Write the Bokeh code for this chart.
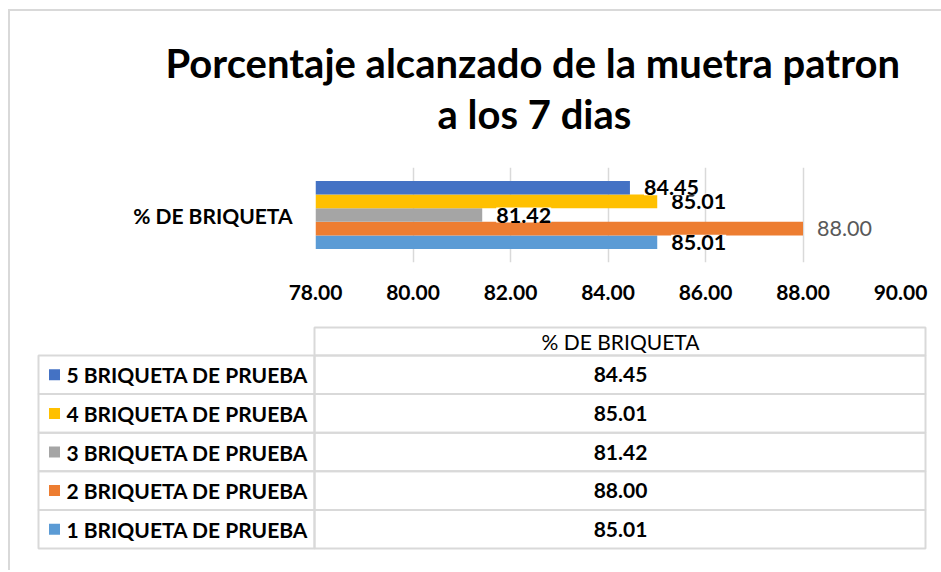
from bokeh.plotting import figure
from bokeh.models import Range1d, FactorRange, NumeralTickFormatter, FixedTicker, Title, LabelSet, ColumnDataSource
from bokeh.transform import dodge
from bokeh.layouts import column
from bokeh.core.properties import value
from bokeh.embed import file_html
from bokeh.resources import INLINE

# ---------------- data ----------------
title_lines = ["Porcentaje alcanzado de la muetra patron", "a los 7 dias"]
category = "% DE BRIQUETA"
series = ["1 BRIQUETA DE PRUEBA", "2 BRIQUETA DE PRUEBA", "3 BRIQUETA DE PRUEBA",
          "4 BRIQUETA DE PRUEBA", "5 BRIQUETA DE PRUEBA"]
values = [85.01, 88.00, 81.42, 85.01, 84.45]
colors = ["#5B9BD5", "#ED7D31", "#A5A5A5", "#FFC000", "#4472C4"]
x_ticks = [78, 80, 82, 84, 86, 88, 90]
x_start, x_end = 78, 90

FONT = "Lato"
GRID = "#d9d9d9"
W = 931

# ---------------- chart ----------------
p = figure(width=W, height=309, x_range=Range1d(x_start, x_end),
           y_range=FactorRange(factors=[category]),
           output_backend="svg", toolbar_location=None, frame_align=False,
           min_border_left=305, min_border_right=41, min_border_top=156, min_border_bottom=58)
p.outline_line_color = None
p.background_fill_color = "white"
p.border_fill_color = "white"

p.xaxis.ticker = FixedTicker(ticks=x_ticks)
p.xaxis.formatter = NumeralTickFormatter(format="0.00")
for ax in (p.xaxis, p.yaxis):
    ax.axis_line_color = None
    ax.major_tick_line_color = None
    ax.minor_tick_line_color = None
    ax.major_label_text_font = FONT
    ax.major_label_text_font_size = "21px"
    ax.major_label_text_font_style = "bold"
    ax.major_label_text_color = "#000000"
p.xaxis.major_label_standoff = 16
p.yaxis.major_label_standoff = 17

p.xgrid.grid_line_color = GRID
p.xgrid.grid_line_width = 1.5
p.ygrid.grid_line_color = None

bar_h = 0.1436
for i, (s, v, c) in enumerate(zip(series, values, colors)):
    off = (i - 2) * bar_h
    src = ColumnDataSource(dict(cat=[category], value=[v], label=["%.2f" % v]))
    p.hbar(y=dodge("cat", off, range=p.y_range), left=x_start, right="value",
           height=bar_h, fill_color=c, line_color=None, source=src)
    is_max = v == max(values)
    lab = LabelSet(x="value", y=dodge("cat", off, range=p.y_range), text="label",
                   x_offset=14, source=src, text_align="left", text_baseline="middle",
                   text_font=value(FONT), text_font_size="21.5px",
                   text_font_style="normal" if is_max else "bold",
                   text_color="#595959" if is_max else "#000000",
                   background_fill_color="white")
    p.add_layout(lab)

TFS = "40px"
t0 = Title(text=" ", text_font=FONT, text_font_size="10px", standoff=14.6)
t2 = Title(text=title_lines[1], align="left", offset=122, standoff=1,
           text_font=FONT, text_font_size=TFS, text_font_style="bold", text_color="#000000")
t1 = Title(text=title_lines[0], align="left", offset=-150, standoff=1,
           text_font=FONT, text_font_size=TFS, text_font_style="bold", text_color="#000000")
p.add_layout(t0, "above")
p.add_layout(t2, "above")
p.add_layout(t1, "above")

# ---------------- data table ----------------
TH = 250
t = figure(width=W, height=TH, x_range=Range1d(0, W), y_range=Range1d(TH, 0),
           output_backend="svg", toolbar_location=None, frame_align=False,
           x_axis_location=None, y_axis_location=None, min_border=0)
t.outline_line_color = None
t.xgrid.grid_line_color = None
t.ygrid.grid_line_color = None

col_left, col_mid, col_right = 28, 304, 915
head_top, head_bot, row_h = 7, 35, 38.6
key_x, key_size, label_x, val_x = 44, 11, 56, 610

rows = list(reversed(range(len(series))))  # top row = last series
tops = [head_bot + k * row_h for k in range(len(rows))]
bots = [tp + row_h for tp in tops]
mids = [tp + row_h / 2 for tp in tops]
row_names = [series[i] for i in rows]
row_vals = ["%.2f" % values[i] for i in rows]
row_cols = [colors[i] for i in rows]

tsrc = ColumnDataSource(dict(top=tops, bottom=bots, mid=mids, name=row_names,
                             val=row_vals, color=row_cols))
t.quad(left=col_left, right=col_mid, top="top", bottom="bottom", source=tsrc,
       fill_color=None, line_color=GRID, line_width=2)
t.quad(left=col_mid, right=col_right, top="top", bottom="bottom", source=tsrc,
       fill_color=None, line_color=GRID, line_width=2)
t.quad(left=[col_mid], right=[col_right], top=[head_top], bottom=[head_bot],
       fill_color=None, line_color=GRID, line_width=2)
t.rect(x=key_x, y="mid", width=key_size, height=key_size, fill_color="color",
       line_color=None, source=tsrc)
t.text(x=label_x, y="mid", text="name", source=tsrc, text_font=value(FONT),
       text_font_size="21px", text_font_style="bold", text_color="#000000",
       text_align="left", text_baseline="middle")
t.text(x=val_x, y="mid", text="val", source=tsrc, text_font=value(FONT),
       text_font_size="21px", text_font_style="bold", text_color="#000000",
       text_align="center", text_baseline="middle")
t.text(x=[val_x], y=[(head_top + head_bot) / 2], text=[category], text_font=value(FONT),
       text_font_size="21px", text_font_style="normal", text_color="#000000",
       text_align="center", text_baseline="middle")

layout = column(p, t, spacing=0,
                styles={"margin-left": "8px", "margin-top": "9px",
                        "border-left": "2px solid #d9d9d9", "border-top": "2px solid #d9d9d9"})

open("out.html", "w").write(file_html(layout, INLINE))
